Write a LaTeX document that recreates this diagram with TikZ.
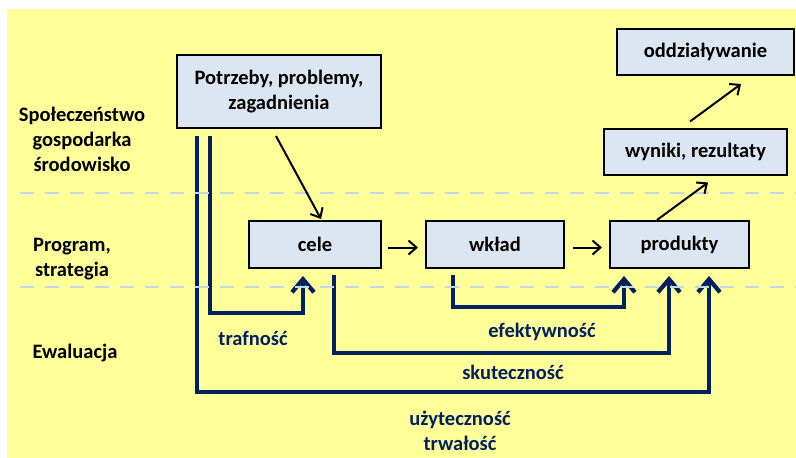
\documentclass[tikz,border=0pt]{standalone}
\usepackage{fontspec}
\setmainfont{Carlito}
\usetikzlibrary{arrows.meta}
\definecolor{bgyellow}{RGB}{255,255,153}
\definecolor{boxblue}{RGB}{220,230,242}
\definecolor{navy}{RGB}{0,32,96}
\definecolor{bandblue}{RGB}{197,213,235}

\begin{document}
\begin{tikzpicture}[x=1pt,y=-1pt,
  font=\fontsize{20.5}{25}\selectfont\bfseries,
  stagebox/.style={draw=black, line width=2pt, fill=boxblue, align=center, inner sep=0pt},
  bandlabel/.style={align=center, text=black},
  critlabel/.style={text=navy, align=center},
  flowarrow/.style={draw=black, line width=2pt, -{Straight Barb[length=8pt,width=14pt]}},
  evalarrow/.style={draw=navy, line width=4.2pt, -{Straight Barb[length=13pt,width=22pt]}},
  bandline/.style={draw=bandblue, line width=2.5pt, dash pattern=on 14pt off 11pt}]
\useasboundingbox (0,0) rectangle (796,458);
\fill[bgyellow] (7,9) rectangle (796,458);

% stages
\node[stagebox, minimum width=204pt, minimum height=73pt] (pp) at (279,91.5) {Potrzeby, problemy,\\zagadnienia};
\node[stagebox, minimum width=177pt, minimum height=46pt] (oddz) at (705.5,52) {oddziaływanie};
\node[stagebox, minimum width=183pt, minimum height=46pt] (wyn) at (695.5,151.5) {wyniki, rezultaty};
\node[stagebox, minimum width=132pt, minimum height=47pt] (cele) at (315,244.5) {cele};
\node[stagebox, minimum width=138pt, minimum height=47pt] (wklad) at (495,244.5) {wkład};
\node[stagebox, minimum width=139pt, minimum height=47pt] (prod) at (679.5,244.5) {produkty};

% band labels
\node[bandlabel] (lsoc) at (82,139) {Społeczeństwo\\gospodarka\\środowisko};
\node[bandlabel] (lprog) at (72,259) {Program,\\strategia};
\node[bandlabel] (lewal) at (75,353) {Ewaluacja};

% ports of the evaluation links
\coordinate (ppU) at ([xshift=-82pt,yshift=-7pt]pp.south);
\coordinate (ppT) at ([xshift=-69pt,yshift=-7pt]pp.south);
\coordinate (celeIn) at ([xshift=-12pt,yshift=-7pt]cele.south);
\coordinate (celeOut) at ([xshift=19pt,yshift=-6pt]cele.south);
\coordinate (wkladOut) at ([xshift=-42pt,yshift=-6pt]wklad.south);
\coordinate (prodE) at ([xshift=-55.5pt,yshift=-7pt]prod.south);
\coordinate (prodS) at ([xshift=-10.5pt,yshift=-7pt]prod.south);
\coordinate (prodU) at ([xshift=29.5pt,yshift=-7pt]prod.south);
\coordinate (lvT) at (0,313);
\coordinate (lvE) at (0,307);
\coordinate (lvS) at (0,353);
\coordinate (lvU) at (0,392);

% evaluation links
\draw[evalarrow] (ppT) |- (lvT -| celeIn) -- (celeIn);
\draw[evalarrow] (wkladOut) |- (lvE -| prodE) -- (prodE);
\draw[evalarrow] (celeOut) |- (lvS -| prodS) -- (prodS);
\draw[evalarrow] (ppU) |- (lvU -| prodU) -- (prodU);

% band separators
\draw[bandline] (20,193) -- (796,193);
\draw[bandline] (20,287) -- (796,287);

% criteria
\node[critlabel] (ctraf) at (253,338) {trafność};
\node[critlabel] (cefek) at (542,332) {efektywność};
\node[critlabel] (cskut) at (513,372) {skuteczność};
\node[critlabel] (cuzyt) at (460,431) {użyteczność\\trwałość};

% logic of the intervention
\draw[flowarrow] ([xshift=-3pt,yshift=-7pt]pp.south) -- ([xshift=6pt,yshift=1pt]cele.north);
\draw[flowarrow] ([xshift=6pt,yshift=-3pt]cele.east) -- ([xshift=-7pt,yshift=-3pt]wklad.west);
\draw[flowarrow] ([xshift=8pt,yshift=-3pt]wklad.east) -- ([xshift=-7pt,yshift=-3pt]prod.west);
\draw[flowarrow] ([xshift=-22.5pt]prod.north) -- ([xshift=12.5pt,yshift=-7pt]wyn.south);
\draw[flowarrow] ([xshift=-5.5pt,yshift=6pt]wyn.north) -- ([xshift=35.5pt,yshift=-8pt]oddz.south);
\end{tikzpicture}
\end{document}
